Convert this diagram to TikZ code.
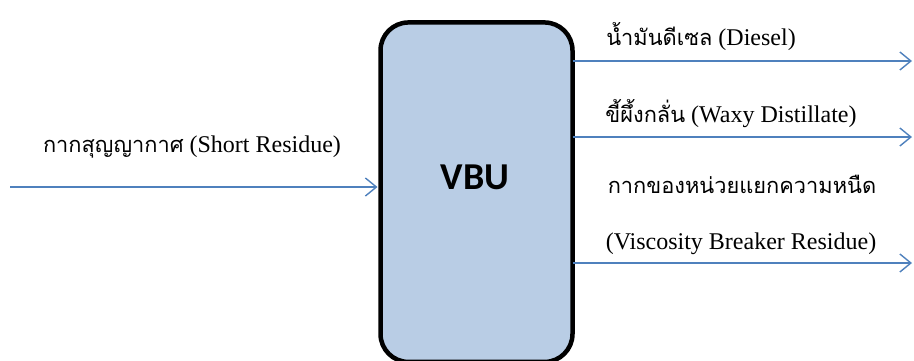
\documentclass[tikz,border=0pt]{standalone}
\usepackage{fontspec}
\setmainfont{Liberation Serif}
\newfontfamily\thaifont[Script=Thai]{Loma}
\newfontfamily\boxfont{Carlito}
\usetikzlibrary{arrows.meta}
\definecolor{flowblue}{HTML}{4F81BD}
\definecolor{boxfill}{HTML}{B9CDE5}
\newcommand{\thtext}[1]{{\thaifont\fontsize{21.8}{26}\selectfont #1}}
\tikzset{
  flow/.style={draw=flowblue, line width=1.4pt, -{Straight Barb[length=11pt,width=18pt,line width=1.4pt]}},
  lbl/.style={inner sep=0pt, font=\fontsize{24}{28}\selectfont, anchor=base},
  unitbox/.style={draw=black, line width=4.5pt, fill=boxfill, rounded corners=28pt,
    minimum width=192pt, minimum height=339.5pt, inner sep=0pt, outer sep=0pt}
}
\begin{document}
\begin{tikzpicture}[x=1pt,y=-1pt]
\useasboundingbox (0,0) rectangle (914,360);
\clip (0,0) rectangle (914,360);
\fill[white] (0,0) rectangle (914,360);
\node[unitbox] (vbu) at (476.5,192.2) {};
\node[font=\boxfont\bfseries\fontsize{38}{44}\selectfont, inner sep=0pt] (vbut) at (475,177) {VBU};
% coordinates
\coordinate (in) at (10,187);
\coordinate (d) at (912,61);
\coordinate (w) at (912,137);
\coordinate (r) at (912,263);
\draw[flow, shorten >=3pt] (in) -- (in -| vbu.west);
\draw[flow] (vbu.east |- d) -- (d);
\draw[flow] (vbu.east |- w) -- (w);
\draw[flow] (vbu.east |- r) -- (r);
% labels
\node[lbl] (lin) at (192,152) {\thtext{กากสุญญากาศ} (Short Residue)};
\node[lbl] (ld) at (701,45) {\thtext{น้ำมันดีเซล} (Diesel)};
\node[lbl] (lw) at (731,122) {\thtext{ขี้ผึ้งกลั่น} (Waxy Distillate)};
\node[lbl] (lr1) at (742,193) {\thtext{กากของหน่วยแยกความหนืด}};
\node[lbl] (lr2) at (741,249) {(Viscosity Breaker Residue)};
\end{tikzpicture}
\end{document}
